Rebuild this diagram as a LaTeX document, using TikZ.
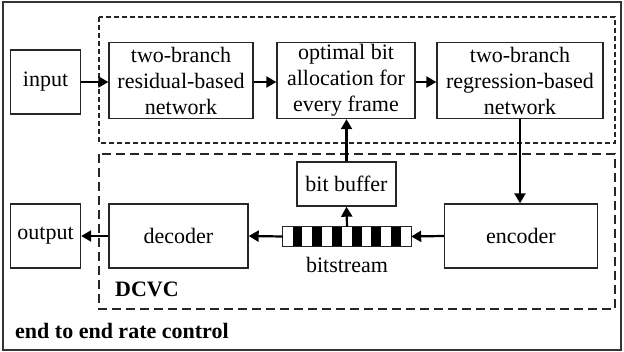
\documentclass[tikz,border=0pt]{standalone}
\usepackage{fontspec}
\setmainfont{Liberation Serif}
\usetikzlibrary{arrows.meta,calc}
\begin{document}
\begin{tikzpicture}[x=1pt,y=-1pt,
  box/.style={draw=black!85,line width=1.4pt,rectangle,inner sep=0pt,align=center,
    font=\fontsize{22}{26}\selectfont},
  arr/.style={line width=2.2pt,-{Triangle[length=10pt,width=11pt]}},
  lbl/.style={font=\fontsize{22}{26}\selectfont\bfseries,inner sep=0pt,anchor=west}]
\useasboundingbox (0,0) rectangle (624,352);
\draw[draw=black!80,line width=1.4pt] (3,2) rectangle (621,350);
\draw[dash pattern=on 5pt off 3pt,line width=1.2pt,black!85] (99,17) rectangle (615,143);
\draw[dash pattern=on 9pt off 5pt,line width=1.2pt,black!85] (99,154) rectangle (615,309);

\node[box,minimum width=70pt,minimum height=64pt] (in) at (45.5,82) {input};
\node[box,minimum width=144pt,minimum height=76pt] (res) at (181,80.5) {two-branch\\residual-based\\network};
\node[box,minimum width=138pt,minimum height=76pt] (opt) at (346,80.5) {optimal bit\\allocation for\\every frame};
\node[box,minimum width=166pt,minimum height=76pt] (reg) at (520,80.5) {two-branch\\regression-based\\network};
\node[box,minimum width=99pt,minimum height=44pt] (buf) at (346.5,184) {bit buffer};
\node[box,minimum width=70pt,minimum height=64pt] (out) at (45.5,236) {output};
\node[box,minimum width=139pt,minimum height=64pt] (dec) at (178.5,236) {decoder};
\node[box,minimum width=153pt,minimum height=64pt] (enc) at (521,236) {encoder};
\node[minimum width=128pt,minimum height=19pt,inner sep=0pt] (bar) at (347,236.5) {};
\foreach \i in {1,3,5,7,9,11}{
  \fill[black] ($(bar.north west)+(\i*9.846,0)$) rectangle ++(9.846,19);
}
\draw[draw=black!85,line width=1.2pt] (bar.north west) rectangle (bar.south east);
\node[font=\fontsize{22}{26}\selectfont,inner sep=0pt] (bs) at (347,265) {bitstream};
\node[lbl] (dcvc) at (115,289) {DCVC};
\node[lbl] (e2e) at (15,331) {end to end rate control};

\draw[arr] (in.east) -- (in.east -| res.west);
\draw[arr] (res.east |- 0,82) -- (opt.west |- 0,82);
\draw[arr] (opt.east |- 0,82) -- (reg.west |- 0,82);
\draw[arr] (reg.south) -- (enc.north -| reg.south);
\draw[arr] (enc.west) -- (bar.east);
\draw[arr] (bar.west) -- (dec.east);
\draw[arr] (dec.west) -- (out.east);
\draw[arr] (bar.north) -- (buf.south);
\draw[arr] (buf.north) -- (opt.south -| buf.north);
\end{tikzpicture}
\end{document}
